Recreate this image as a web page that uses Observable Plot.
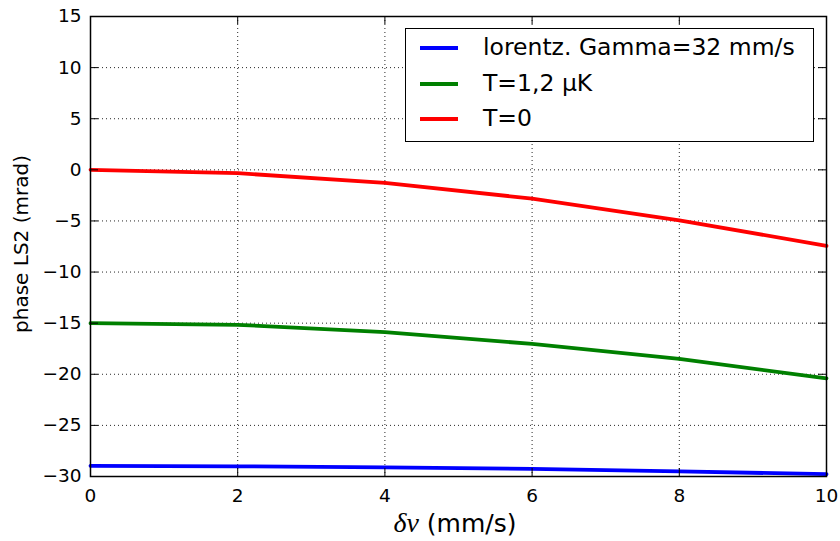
<!DOCTYPE html>
<html><head><meta charset="utf-8">
<script src="https://cdn.jsdelivr.net/npm/d3@7"></script>
<script src="https://cdn.jsdelivr.net/npm/@observablehq/plot@0.6"></script>
<style>
body{margin:0;background:#fff;}
#wrap{position:relative;width:840px;height:541px;font-family:"DejaVu Sans",sans-serif;color:#000;}
#wrap svg{position:absolute;left:0;top:0;}
.lab{position:absolute;white-space:nowrap;line-height:1;}
#legend{position:absolute;left:405px;top:28px;width:409px;height:114px;box-sizing:border-box;border:1.5px solid #000;background:#fff;}
.row{position:absolute;left:0;height:0;}
.swatch{position:absolute;left:14px;width:38px;height:4px;top:-2px;}
.ltext{position:absolute;left:77px;top:0;transform:translateY(-50%);font-size:23.5px;white-space:nowrap;line-height:1;}
</style></head><body><div id="wrap"></div>
<script>
// x values (mm/s)
const xValues = [0, 2, 4, 6, 8, 10];
// series values (mrad)
const lorentzValues = [-28.96, -29.0, -29.1, -29.26, -29.5, -29.77];
const tempValues    = [-15.0, -15.16, -15.87, -17.03, -18.5, -20.4];
const zeroValues    = [0, -0.33, -1.27, -2.82, -4.94, -7.44];
const seriesNames = ["lorentz. Gamma=32 mm/s", "T=1,2 µK", "T=0"];
const seriesColors = ["#0000ff", "#008000", "#ff0000"];
const xTicks = [0, 2, 4, 6, 8, 10];
const yTicks = [-30, -25, -20, -15, -10, -5, 0, 5, 10, 15];

const seriesValues = [lorentzValues, tempValues, zeroValues];
const rows = [];
seriesNames.forEach((name, i) => {
  xValues.forEach((x, j) => rows.push({series: name, x, y: seriesValues[i][j]}));
});

const W = 840, H = 541, mL = 90, mR = 14, mT = 16, mB = 65;
const fw = W - mL - mR, fh = H - mT - mB, tk = 8;
const gridStyle = {stroke: "#000", strokeOpacity: 0.85, strokeWidth: 1, strokeDasharray: "1,3"};

const chart = Plot.plot({
  width: W, height: H,
  marginLeft: mL, marginRight: mR, marginTop: mT, marginBottom: mB,
  style: {fontFamily: "DejaVu Sans", fontSize: "18.5px", background: "transparent", color: "#000"},
  x: {domain: [0, 10]},
  y: {domain: [-30, 15]},
  color: {domain: seriesNames, range: seriesColors},
  marks: [
    Plot.gridX(xTicks, gridStyle),
    Plot.gridY(yTicks, gridStyle),
    Plot.line(rows, {x: "x", y: "y", z: "series", stroke: "series", strokeWidth: 3.8, strokeLinejoin: "round"}),
    Plot.ruleX(xTicks, {x: d => d, stroke: "#000", strokeWidth: 1, insetTop: fh - tk}),
    Plot.ruleX(xTicks, {x: d => d, stroke: "#000", strokeWidth: 1, insetBottom: fh - tk}),
    Plot.ruleY(yTicks, {y: d => d, stroke: "#000", strokeWidth: 1, insetRight: fw - tk}),
    Plot.ruleY(yTicks, {y: d => d, stroke: "#000", strokeWidth: 1, insetLeft: fw - tk}),
    Plot.frame({stroke: "#000", strokeWidth: 1.5}),
    Plot.axisX(xTicks, {tickSize: 0, tickPadding: 12, label: null, fontSize: 18.5}),
    Plot.axisY(yTicks, {tickSize: 0, tickPadding: 9, label: null, fontSize: 18.5})
  ]
});
const wrap = document.getElementById("wrap");
wrap.appendChild(chart);

// axis labels
const yl = document.createElement("div");
yl.className = "lab";
yl.textContent = "phase LS2 (mrad)";
yl.style.cssText = "left:21px;top:244px;font-size:20px;transform:translate(-50%,-50%) rotate(-90deg);";
wrap.appendChild(yl);

const xl = document.createElement("div");
xl.className = "lab";
xl.innerHTML = '<span style="font-family:\'Liberation Serif\',serif;font-style:italic;font-size:28px;">δv</span> (mm/s)';
xl.style.cssText = "left:455px;top:523px;font-size:25px;transform:translate(-50%,-50%);";
wrap.appendChild(xl);

// legend
const lg = document.createElement("div");
lg.id = "legend";
const rowY = [19, 55, 90];
seriesNames.forEach((name, i) => {
  const r = document.createElement("div");
  r.className = "row";
  r.style.top = rowY[i] + "px";
  const s = document.createElement("div");
  s.className = "swatch";
  s.style.background = seriesColors[i];
  const t = document.createElement("div");
  t.className = "ltext";
  t.textContent = name;
  r.appendChild(s); r.appendChild(t);
  lg.appendChild(r);
});
wrap.appendChild(lg);
</script>
</body></html>
